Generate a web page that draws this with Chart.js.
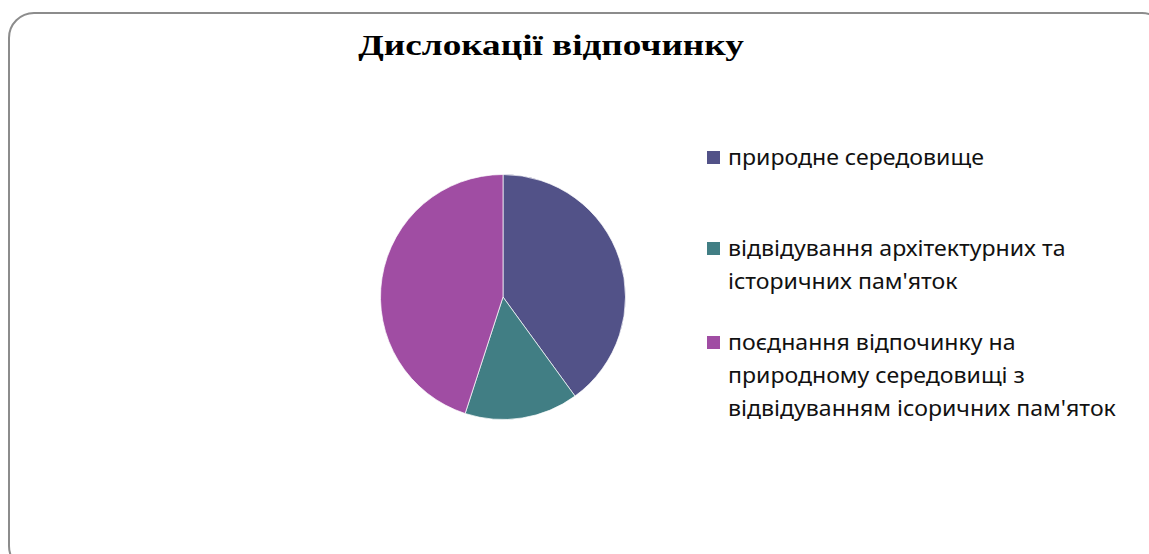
<!DOCTYPE html>
<html>
<head>
<meta charset="utf-8">
<script src="https://cdn.jsdelivr.net/npm/chart.js@4"></script>
<style>
  html, body { margin: 0; padding: 0; background: #fff; }
  body { width: 1149px; height: 554px; position: relative; overflow: hidden; }
  .frame {
    position: absolute; left: 8px; top: 12px; width: 1160px; height: 560px;
    border: 2px solid #8c8c8c; border-radius: 26px; box-sizing: border-box;
  }
  .title {
    position: absolute; left: 251px; width: 600px; top: 28px; text-align: center;
    font-family: "Liberation Serif", serif; font-weight: bold; font-size: 30px; color: #000;
    transform: scaleX(1.24); transform-origin: 50% 50%;
  }
  #pieWrap { position: absolute; left: 380px; top: 174px; width: 246px; height: 246px; }
  .legend-item {
    position: absolute; left: 707px;
    font-family: "Noto Sans", sans-serif; font-size: 21px; line-height: 33px; color: #111;
  }
  .legend-item .box {
    position: absolute; left: 0; top: 10px; width: 13px; height: 13px;
  }
  .legend-item .txt {
    margin-left: 21px; white-space: nowrap;
    transform: scaleX(1.1); transform-origin: 0 50%;
  }
</style>
</head>
<body>
<div class="frame"></div>
<div class="title" id="title"></div>
<div id="pieWrap"><canvas id="pie"></canvas></div>
<div id="legend"></div>
<script>
// ----------- DATA -----------
const chartTitle = "Дислокації відпочинку";
const categories = [
  ["природне середовище"],
  ["відвідування архітектурних та", "історичних пам'яток"],
  ["поєднання відпочинку на", "природному середовищі з", "відвідуванням ісоричних пам'яток"]
];
const shares = [40, 15, 45];
const sliceColors = ["#525288", "#417e84", "#a04da3"];

document.getElementById('title').textContent = chartTitle;

// ----------- PIE -----------
const pieCtx = document.getElementById('pie').getContext('2d');
const pieChart = new Chart(pieCtx, {
  type: 'pie',
  data: {
    labels: categories.map(c => c.join(' ')),
    datasets: [{
      data: shares,
      backgroundColor: sliceColors,
      borderColor: 'rgba(255,255,255,0.7)',
      borderWidth: 1
    }]
  },
  options: {
    responsive: true,
    maintainAspectRatio: false,
    animation: false,
    layout: { padding: 0 },
    plugins: {
      legend: { display: false },
      tooltip: { enabled: false }
    }
  }
});

// ----------- LEGEND -----------
const legendTops = [141, 232, 326];
const legend = document.getElementById('legend');
categories.forEach((lines, i) => {
  const item = document.createElement('div');
  item.className = 'legend-item';
  item.style.top = legendTops[i] + 'px';
  const box = document.createElement('div');
  box.className = 'box';
  box.style.background = sliceColors[i];
  const txt = document.createElement('div');
  txt.className = 'txt';
  lines.forEach(l => {
    const d = document.createElement('div');
    d.textContent = l;
    txt.appendChild(d);
  });
  item.appendChild(box);
  item.appendChild(txt);
  legend.appendChild(item);
});
</script>
</body>
</html>
